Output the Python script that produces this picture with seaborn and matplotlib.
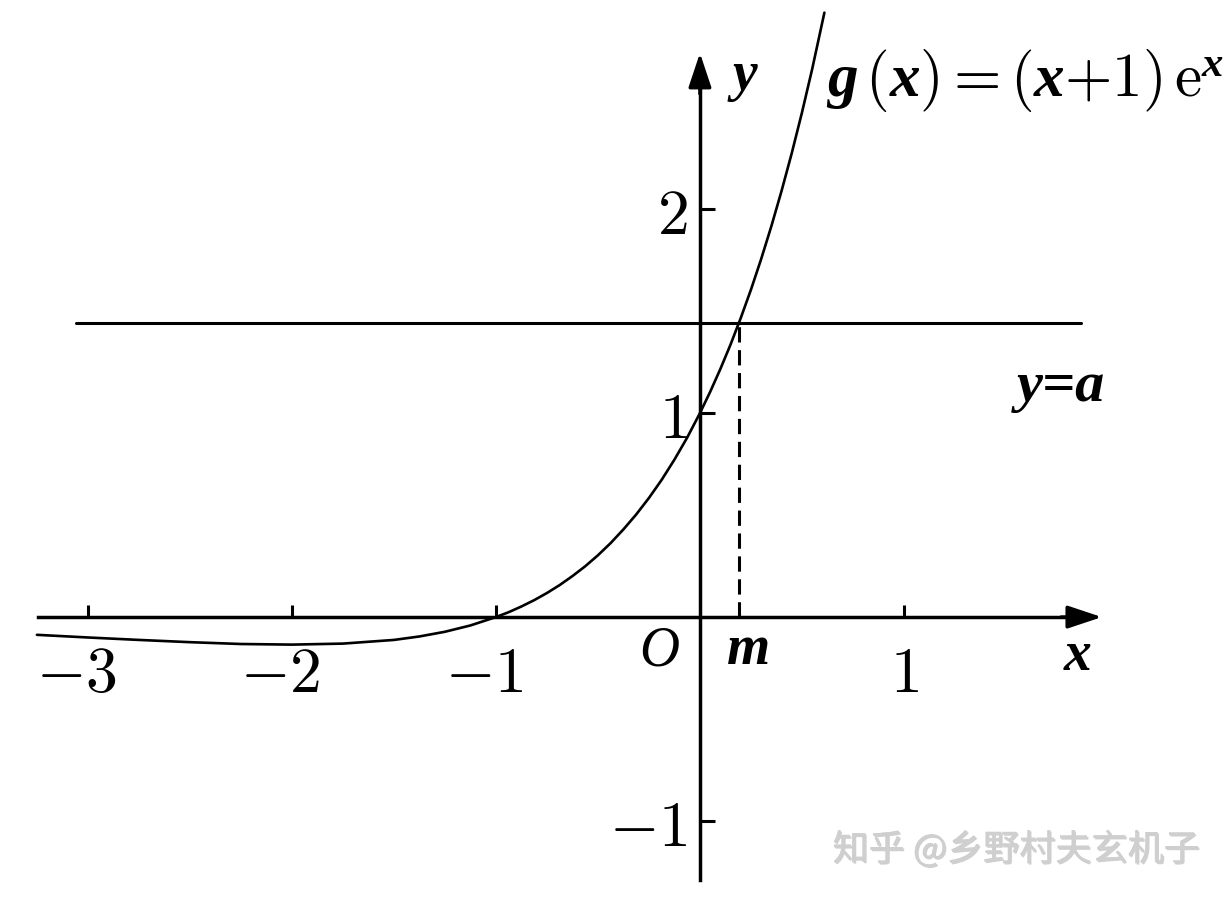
import matplotlib
matplotlib.use("Agg")
import matplotlib.pyplot as plt
import matplotlib.patheffects as pe
import matplotlib.transforms as mtrans
import seaborn as sns
import pandas as pd

# curve g(x) = (x+1)e^x
curve_x = [-3.25, -3.0, -2.75, -2.5, -2.25, -2.0, -1.75, -1.5, -1.375, -1.25, -1.125,
           -1.0, -0.9375, -0.875, -0.8125, -0.75, -0.6875, -0.625, -0.5625, -0.5,
           -0.4375, -0.375, -0.3125, -0.25, -0.1875, -0.125, -0.0625, 0.0, 0.05, 0.1,
           0.15, 0.2, 0.25, 0.3, 0.35, 0.4, 0.45, 0.5, 0.55, 0.61]
curve_y = [-0.087, -0.100, -0.112, -0.123, -0.132, -0.135, -0.130, -0.112, -0.095,
           -0.072, -0.041, 0.0, 0.024, 0.052, 0.083, 0.118, 0.157, 0.201, 0.249, 0.303,
           0.363, 0.430, 0.503, 0.584, 0.673, 0.772, 0.880, 1.0, 1.104, 1.216,
           1.336, 1.466, 1.605, 1.755, 1.916, 2.089, 2.274, 2.473, 2.686, 2.963]

a_value = 1.44
m_value = 0.19
line_x = [-3.06, 1.87]

x_ticks = [-3, -2, -1, 1]
x_labels = [r"$-3$", r"$-2$", r"$-1$", r"$1$"]
y_ticks = [-1, 1, 2]
y_labels = [r"$-1$", r"$1$", r"$2$"]

x_axis = [-3.245, 1.97]
y_axis = [-1.29, 2.765]

sns.set_style("white")
plt.rcParams["mathtext.fontset"] = "custom"
plt.rcParams["mathtext.rm"] = "cmr10"
plt.rcParams["mathtext.it"] = "Liberation Serif:italic:bold"
plt.rcParams["mathtext.bf"] = "Liberation Serif:bold"
plt.rcParams["axes.unicode_minus"] = True

fig = plt.figure(figsize=(12.32, 8.99), dpi=100)
ax = fig.add_axes([0, 0, 1, 1])
ax.set_xlim(-3.431, 2.608)
ax.set_ylim(-1.382, 3.025)

df = pd.DataFrame({"x": curve_x, "y": curve_y})
sns.lineplot(data=df, x="x", y="y", ax=ax, color="black", linewidth=1.9, sort=False)

# y = a line and dashed drop to m
ax.plot(line_x, [a_value, a_value], color="black", lw=2.2)
ax.plot([m_value, m_value], [0, a_value], color="black", lw=2.2, dashes=(5, 2.5))

# axes as spines through the origin
for s in ["top", "right"]:
    ax.spines[s].set_visible(False)
ax.spines["bottom"].set_position(("data", 0))
ax.spines["left"].set_position(("data", 0))
ax.spines["bottom"].set_bounds(x_axis[0], x_axis[1] - 0.05)
ax.spines["left"].set_bounds(y_axis[0], y_axis[1] - 0.05)
for s in ["bottom", "left"]:
    ax.spines[s].set_linewidth(2.5)
    ax.spines[s].set_color("black")

arrow = dict(arrowstyle="-|>,head_length=1.5,head_width=0.5", color="black",
             lw=2.5, mutation_scale=14, shrinkA=0, shrinkB=0)
ax.annotate("", xy=(x_axis[1], 0), xytext=(x_axis[1] - 0.2, 0), arrowprops=arrow)
ax.annotate("", xy=(0, y_axis[1]), xytext=(0, y_axis[1] - 0.2), arrowprops=arrow)

ax.set_xticks(x_ticks, labels=x_labels)
ax.set_yticks(y_ticks, labels=y_labels)
ax.tick_params(axis="x", bottom=True, direction="in", length=9, width=2.2, pad=19,
               labelsize=46, colors="black")
ax.tick_params(axis="y", left=True, direction="in", length=11, width=2.2, pad=9,
               labelsize=46, colors="black")
# negative x labels sit a little to the left of their ticks
shift = mtrans.ScaledTranslation(-12 / 100, 0, fig.dpi_scale_trans)
for v, lab in zip(x_ticks, ax.get_xticklabels()):
    if v < 0:
        lab.set_transform(lab.get_transform() + shift)
ax.set_xlabel("")
ax.set_ylabel("")

bi = dict(family="Liberation Serif", style="italic", weight="bold", color="black")
ax.text(1.85, -0.19, "x", fontsize=40, ha="center", va="center", **bi)
ax.text(0.22, 2.65, "y", fontsize=40, ha="center", va="center", **bi)
ax.text(-0.2, -0.17, "O", fontsize=40, ha="center", va="center",
        family="Liberation Serif", style="italic", color="black")
ax.text(m_value + 0.05, -0.16, "m", fontsize=40, ha="center", va="center", **bi)
ax.text(1.77, 1.13, "y=a", fontsize=42, ha="center", va="center", **bi)
ax.text(0.62, 2.63, r"$g\,(x) = (x{+}1)\,\mathrm{e}^{x}$", fontsize=44,
        ha="left", va="center", color="black")

ax.text(1.55, -1.14, "知乎 @乡野村夫玄机子", fontsize=26, ha="center", va="center",
        family=["Noto Sans CJK SC", "DejaVu Sans"], weight="light", color="#cfcfcf",
        path_effects=[pe.withSimplePatchShadow(offset=(1, -1), shadow_rgbFace="#a0a0a0", alpha=0.5),
                      pe.Normal()])

fig.savefig("out.png", dpi=100)
